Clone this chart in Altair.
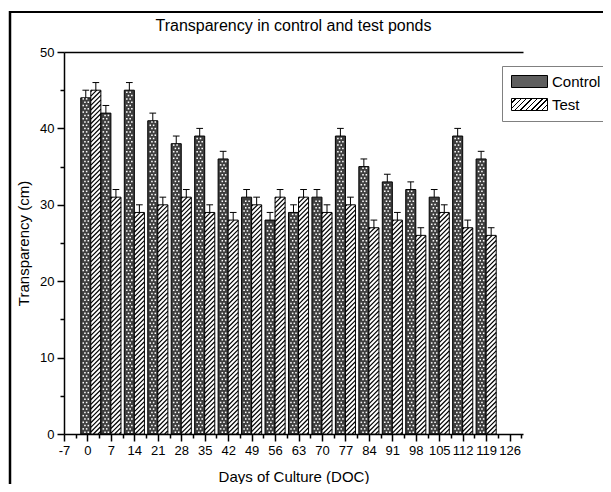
import altair as alt
import pandas as pd
import numpy as np

# ---------------- data ----------------
days = [1, 7, 14, 21, 28, 35, 42, 49, 56, 63, 70, 77, 84, 91, 98, 105, 112, 119]
control = [44, 42, 45, 41, 38, 39, 36, 31, 28, 29, 31, 39, 35, 33, 32, 31, 39, 36]
test = [45, 31, 29, 30, 31, 29, 28, 30, 31, 31, 29, 30, 27, 28, 26, 29, 27, 26]
control_err = [1, 1, 1, 1, 1, 1, 1, 1, 1, 1, 1, 1, 1, 1, 1, 1, 1, 1]
test_err = [1, 1, 1, 1, 1, 1, 1, 1, 1, 1, 1, 1, 1, 1, 1, 1, 1, 1]
groups = ["Control", "Test"]
x_tick_labels = [-7, 0, 7, 14, 21, 28, 35, 42, 49, 56, 63, 70, 77, 84, 91, 98, 105, 112, 119, 126]
y_tick_labels = [0, 10, 20, 30, 40, 50]

# ---------------- layout / style ----------------
W, H = 459, 382
X_DOMAIN = [-7, 130]
Y_DOMAIN = [0, 50]
BAR_W = 3.0          # bar width in days
CAP_HALF = 1.0       # half width of error cap in days
CONTROL_FILL = "#3e3e3e"
CONTROL_SWATCH = "#5e5e5e"
FONT = "Liberation Sans"

x_minor = [t + 3.5 for t in x_tick_labels]
y_minor = [t + 5 for t in y_tick_labels[:-1]]

rows = []
for i, d in enumerate(days):
    for g, vals, errs in (("Control", control, control_err), ("Test", test, test_err)):
        x0 = d - BAR_W if g == "Control" else d
        x1 = x0 + BAR_W
        xc = (x0 + x1) / 2
        v = vals[i]
        e = errs[i]
        rows.append(dict(day=d, group=g, value=v, err=e, x0=x0, x1=x1, xc=xc,
                         top=v + e, cl=xc - CAP_HALF, cr=xc + CAP_HALF))
df = pd.DataFrame(rows)

px_x = W / (X_DOMAIN[1] - X_DOMAIN[0])
px_y = H / (Y_DOMAIN[1] - Y_DOMAIN[0])

# hatch texture for the Test bars (45 degree lines in screen space)
k = px_x / px_y
step = 4.6 / px_y
hatch_rows = []
for r in rows:
    if r["group"] != "Test":
        continue
    xa, xb, v = r["x0"], r["x1"], r["value"]
    c = v - step * 0.3
    while c > -k * (xb - xa):
        lo = max(xa, xa + (0 - c) / k)
        hi = min(xb, xa + (v - c) / k)
        if hi - lo > 0.05:
            hatch_rows.append(dict(hx0=lo, hy0=c + k * (lo - xa), hx1=hi, hy1=c + k * (hi - xa)))
        c -= step
hatch_df = pd.DataFrame(hatch_rows)

# checker (dot) texture for the Control bars
dot_rows = []
pitch_y = 3.3
for r in rows:
    if r["group"] != "Control":
        continue
    bw_px = (r["x1"] - r["x0"]) * px_x
    cw = bw_px / 3.0
    h_px = r["value"] * px_y
    m = 0
    yp = 1.8
    while yp < h_px - 1.0:
        shift = 0.5 * (m % 2)
        for j in range(4):
            xp = (j + 0.25 + shift) * cw
            if 0.9 < xp < bw_px - 0.9:
                dot_rows.append(dict(dx=r["x0"] + xp / px_x, dy=yp / px_y))
        yp += pitch_y
        m += 1
dot_df = pd.DataFrame(dot_rows)

# striped gradient for the Test legend swatch
n_str = 9
stops = []
for i in range(n_str):
    p0 = i / n_str
    b0 = p0 + 0.70 / n_str
    p1 = (i + 1) / n_str
    stops += [(p0, "white"), (b0, "white"), (b0, "black"), (p1, "black")]
stops_txt = ",".join("{offset:%.4f,color:'%s'}" % (o, c) for o, c in stops)
grad_expr = "{gradient:'linear',x1:0,y1:0,x2:1.2,y2:0.4,stops:[" + stops_txt + "]}"

xs = alt.Scale(domain=X_DOMAIN, nice=False, zero=False)
ys = alt.Scale(domain=Y_DOMAIN, nice=False, zero=False)

base = alt.Chart(df)

bars = base.mark_bar(stroke="black", strokeWidth=1).encode(
    x=alt.X("x0:Q", scale=xs,
            axis=alt.Axis(orient="bottom", values=x_tick_labels, title="Days of Culture (DOC)",
                          tickSize=7, labelOverlap=False, labelFlush=False, grid=False,
                          titlePadding=12, labelExpr="'' + datum.value")),
    x2="x1:Q",
    y=alt.Y("value:Q", scale=ys,
            axis=alt.Axis(orient="left", values=y_tick_labels, title="Transparency (cm)",
                          tickSize=7, grid=False, titlePadding=8)),
    y2=alt.datum(0),
    fill=alt.condition(alt.datum.group == "Control", alt.value(CONTROL_FILL), alt.value("white")),
)

dots = alt.Chart(dot_df).mark_square(color="white", opacity=1, size=2.4, filled=True).encode(
    x=alt.X("dx:Q", scale=xs, axis=None),
    y=alt.Y("dy:Q", scale=ys, axis=None),
)

hatch = alt.Chart(hatch_df).mark_rule(color="black", strokeWidth=1.2).encode(
    x=alt.X("hx0:Q", scale=xs, axis=None),
    x2="hx1:Q",
    y=alt.Y("hy0:Q", scale=ys, axis=None),
    y2="hy1:Q",
)

whisk = base.mark_rule(color="black", strokeWidth=1).encode(
    x=alt.X("xc:Q", scale=xs,
            axis=alt.Axis(orient="bottom", values=x_minor, labels=False, tickSize=4,
                          domain=False, title=None, grid=False)),
    y=alt.Y("value:Q", scale=ys,
            axis=alt.Axis(orient="left", values=y_minor, labels=False, tickSize=4,
                          domain=False, title=None, grid=False)),
    y2="top:Q",
)

caps = base.mark_rule(color="black", strokeWidth=1).encode(
    x=alt.X("cl:Q", scale=xs,
            axis=alt.Axis(orient="top", labels=False, ticks=False, domain=True,
                          title=None, grid=False)),
    x2="cr:Q",
    y=alt.Y("top:Q", scale=ys, axis=None),
)

legend_layer = base.mark_point(filled=True, opacity=0, stroke="black", strokeWidth=1, size=1).encode(
    fill=alt.Fill("group:N",
                  scale=alt.Scale(domain=groups, range=[CONTROL_SWATCH, alt.ExprRef(grad_expr)]),
                  legend=alt.Legend(title=None, orient="none", legendX=438, legendY=14,
                                    strokeColor="#808080", fillColor="white", padding=8,
                                    symbolType="M-1,-1H5V1H-1Z", symbolSize=144,
                                    symbolStrokeColor="black", symbolStrokeWidth=1,
                                    symbolOpacity=1, labelOffset=27, rowPadding=6,
                                    labelFont=FONT, labelFontSize=15, labelColor="black")),
)

frame_data = alt.Data(values=[{"k": 0}])
top_frame = alt.Chart(frame_data).mark_rule(color="black", strokeWidth=2).encode(
    x=alt.value(-55), x2=alt.value(539), y=alt.value(-40))
left_frame = alt.Chart(frame_data).mark_rule(color="black", strokeWidth=2.5).encode(
    x=alt.value(-54), y=alt.value(-41), y2=alt.value(432))

chart = (
    alt.layer(bars, dots, hatch, whisk, caps, legend_layer, top_frame, left_frame)
    .resolve_axis(x="independent", y="independent")
    .properties(
        width=W, height=H,
        title=alt.Title("Transparency in control and test ponds", anchor="middle",
                        font=FONT, fontSize=16, fontWeight="normal", color="black",
                        offset=0, dy=24),
        padding={"left": 56, "top": 44, "right": 80, "bottom": 50},
        autosize=alt.AutoSizeParams(type="none"),
    )
    .configure_axis(labelFont=FONT, labelFontSize=13, labelColor="black",
                    titleFont=FONT, titleFontSize=15, titleFontWeight="normal", titleColor="black",
                    domainColor="black", domainWidth=1.5, tickColor="black", tickWidth=1.5,
                    labelPadding=3)
    .configure_view(stroke=None)
)

chart.save("out.html", embed_options={"renderer": "svg", "actions": False})
